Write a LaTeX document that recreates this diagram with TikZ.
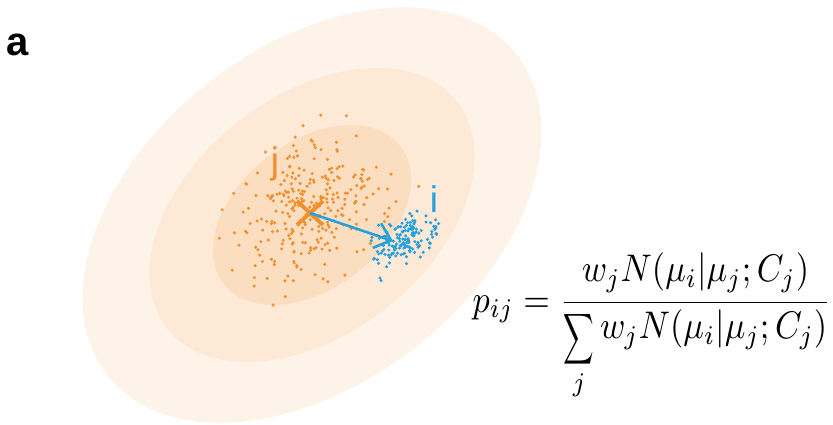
\documentclass[tikz,border=0pt]{standalone}
\usepackage{fontspec}
\newfontfamily\labelfont{Liberation Sans}
\usetikzlibrary{arrows.meta}
\definecolor{ellA}{RGB}{254,243,232}
\definecolor{ellB}{RGB}{253,233,213}
\definecolor{ellC}{RGB}{251,222,192}
\definecolor{gorange}{RGB}{242,142,43}
\definecolor{gblue}{RGB}{38,160,222}
\newcommand{\narrowsum}{\mathop{\raisebox{-2.5pt}{\scalebox{0.62}[0.92]{$\displaystyle\sum$}}}}
\tikzset{
  opt/.style={fill=gorange},
  bpt/.style={fill=gblue},
  lbl/.style={inner sep=0pt, font=\labelfont\fontsize{37}{40}\selectfont},
  meanarrow/.style={draw=gblue, line width=2.6pt, -{Straight Barb[length=15pt,width=26pt,line width=2.6pt]}},
  cross/.style={draw=gorange, line width=3.8pt}
}
\begin{document}
\begin{tikzpicture}[x=1pt,y=-1pt]
\useasboundingbox (0,0) rectangle (833,424);
% ellipses
\fill[ellA, rotate around={38:(312,215)}] (312,215) ellipse [x radius=260, y radius=168];
\fill[ellB, rotate around={38:(312,215)}] (312,215) ellipse [x radius=184, y radius=119];
\fill[ellC, rotate around={38:(312,215)}] (312,215) ellipse [x radius=112, y radius=73];
% orange scatter
\pgfmathsetseed{11}
\foreach \k in {1,...,280}{
  \pgfmathsetmacro\u{rand+rand+rand}
  \pgfmathsetmacro\v{rand+rand+rand}
  \fill[opt] ({310+0.788*38*\u+0.616*30*\v},{213-0.616*38*\u+0.788*30*\v}) circle (1.7);
}
% blue scatter
\foreach \k in {1,...,150}{
  \pgfmathsetmacro\u{rand+rand+rand}
  \pgfmathsetmacro\v{rand+rand+rand}
  \fill[bpt] ({403+0.85*18*\u+0.53*10*\v},{241-0.53*18*\u+0.85*10*\v}) circle (1.7);
}
\fill[bpt] (380,278) circle (1.7);
\fill[bpt] (426,222) circle (1.7);
% means
\coordinate (mj) at (310,213);
\coordinate (mi) at (393,241);
\draw[cross] (297,201) -- (323,225);
\draw[cross] (297,225) -- (323,201);
\draw[meanarrow] (mj) -- (mi);
% labels
\node[lbl, text=gorange] (lj) at (275,164) {j};
\node[lbl, text=gblue] (li) at (434,199) {i};
\node[inner sep=0pt, anchor=base west, font=\labelfont\bfseries\fontsize{40}{44}\selectfont] (la) at (6,55) {a};
% formula
\node[inner sep=0pt, anchor=base west, xscale=3.42, yscale=3.85] (f) at (472,312)
  {$\displaystyle p_{ij}=\frac{w_jN(\mu_i|\mu_j;C_j)\rule[-4pt]{0pt}{4pt}}{\narrowsum\limits_j w_jN(\mu_i|\mu_j;C_j)}$};
\end{tikzpicture}
\end{document}
